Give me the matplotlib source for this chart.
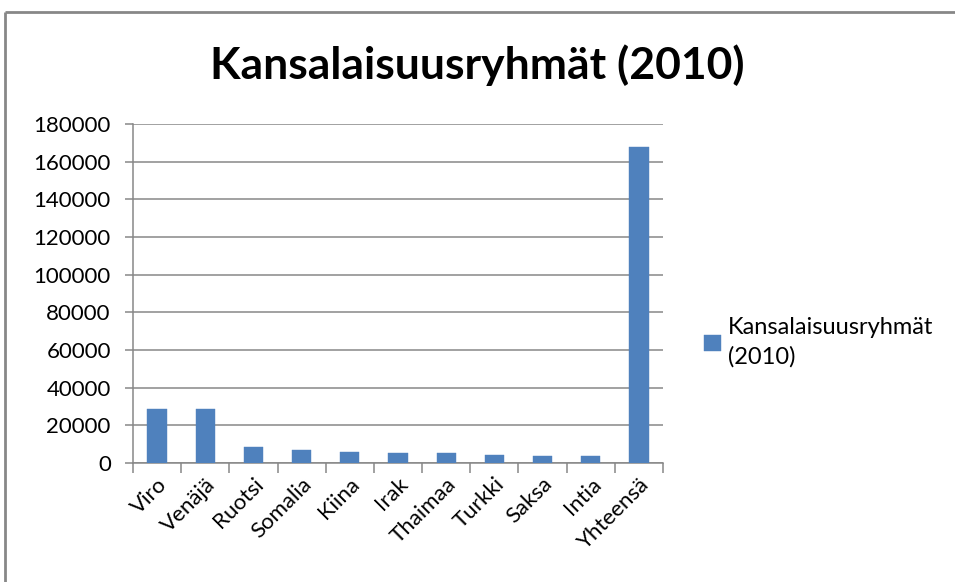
import matplotlib.pyplot as plt
from matplotlib.lines import Line2D
import numpy as np

plt.rcParams['font.family'] = ['Lato', 'DejaVu Sans']

# data
sCategories = ['Viro', 'Venäjä', 'Ruotsi', 'Somalia', 'Kiina', 'Irak',
               'Thaimaa', 'Turkki', 'Saksa', 'Intia', 'Yhteensä']
viValues = [28600, 28600, 8300, 7100, 5900, 5200, 5100, 4300, 3600, 3500, 167800]
viYTicks = list(range(0, 180001, 20000))
sTitle = 'Kansalaisuusryhmät (2010)'
sSeries = 'Kansalaisuusryhmät\n(2010)'

fig = plt.figure(figsize=(9.55, 5.82), dpi=100)
ax = fig.add_axes([133/955, 1 - 463/582, (663-133)/955, (463-124)/582])

# outer chart frame (only top and left edges are inside the picture)
dFrameX = 5/955
dFrameY = 1 - 12/582
fig.add_artist(Line2D([dFrameX, 1.02], [dFrameY, dFrameY], color='#878787',
                      linewidth=2, solid_capstyle='butt'))
fig.add_artist(Line2D([dFrameX, dFrameX], [-0.02, dFrameY], color='#878787',
                      linewidth=2, solid_capstyle='butt'))

x = np.arange(len(sCategories))
ax.bar(x, viValues, width=0.4, color='#4F81BD', edgecolor='#4F81BD',
       linewidth=0.3, label=sSeries, zorder=3)

ax.set_xlim(-0.5, len(sCategories) - 0.5)
ax.set_ylim(0, 180000)
ax.set_yticks(viYTicks)
ax.set_yticklabels([str(v) for v in viYTicks], fontsize=16)
ax.yaxis.grid(True, color='#878787', linewidth=1.1, zorder=0)

# category ticks sit at the boundaries, labels at the centres
ax.set_xticks(np.arange(len(sCategories) + 1) - 0.5)
ax.set_xticklabels([])
ax.set_xticks(x, minor=True)
ax.set_xticklabels(sCategories, minor=True, rotation=45, ha='right',
                   rotation_mode='anchor', fontsize=16)
ax.tick_params(axis='x', which='major', length=7, color='#878787', width=1.1)
ax.tick_params(axis='x', which='minor', length=0, pad=8)
ax.tick_params(axis='y', length=6, color='#878787', width=1.1, pad=10)

for side in ['top', 'right']:
    ax.spines[side].set_visible(False)
for side in ['left', 'bottom']:
    ax.spines[side].set_color('#878787')
    ax.spines[side].set_linewidth(1.1)

fig.text(0.5, 1 - 65/582, sTitle, ha='center', va='center',
         fontsize=32, fontweight='bold')

fig.legend(loc='upper left', bbox_to_anchor=(695/955, 1 - 308/582),
           frameon=False, fontsize=17, handlelength=0.7, handleheight=0.7,
           handletextpad=0.3, borderaxespad=0, labelspacing=0.5)
plt.setp(fig.legends[0].get_texts(), linespacing=1.45)

fig.savefig('out.png', dpi=100)
